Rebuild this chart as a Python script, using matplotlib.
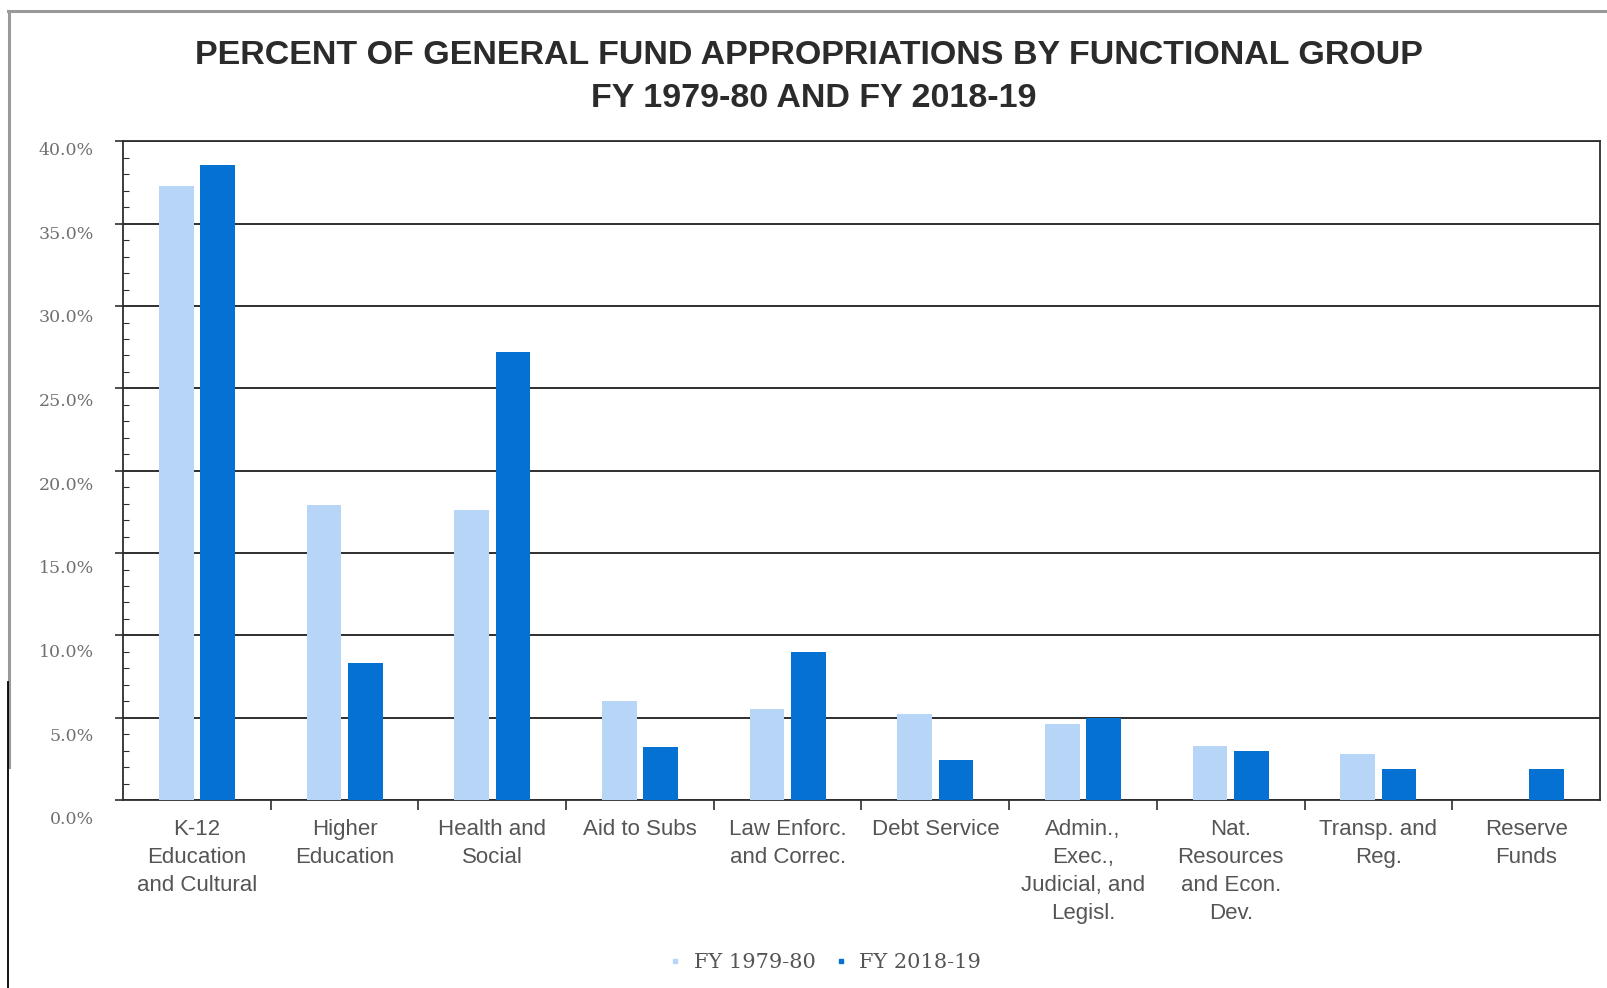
import matplotlib
matplotlib.use("Agg")
import matplotlib.pyplot as plt
import matplotlib.transforms as mtransforms
from matplotlib.lines import Line2D
import numpy as np

# percent of general fund appropriations, by functional group
groups = [
    "K-12\nEducation\nand Cultural",
    "Higher\nEducation",
    "Health and\nSocial",
    "Aid to Subs",
    "Law Enforc.\nand Correc.",
    "Debt Service",
    "Admin.,\nExec.,\nJudicial, and\nLegisl.",
    "Nat.\nResources\nand Econ.\nDev.",
    "Transp. and\nReg.",
    "Reserve\nFunds",
]
fy_1979_80 = [37.3, 17.9, 17.6, 6.0, 5.5, 5.2, 4.6, 3.3, 2.8, 0.0]
fy_2018_19 = [38.6, 8.3, 27.2, 3.2, 9.0, 2.4, 5.0, 3.0, 1.9, 1.9]
series_names = ["FY 1979-80", "FY 2018-19"]
y_ticks = [0, 5, 10, 15, 20, 25, 30, 35, 40]

LIGHT = "#b7d5f6"
DARK = "#0572d3"
TEXT_GRAY = "#555555"

fig = plt.figure(figsize=(16.08, 9.88), dpi=100)
ax = fig.add_axes([0.0765, 0.1903, 0.9185, 0.6665])

x = np.arange(len(groups))
w = 0.235
ax.bar(x - 0.14, fy_1979_80, width=w, color=LIGHT, zorder=3, label=series_names[0])
ax.bar(x + 0.14, fy_2018_19, width=w, color=DARK, zorder=3, label=series_names[1])

ax.set_xlim(-0.5, len(groups) - 0.5)
ax.set_ylim(0, 40)

# y axis: gridlines at every 5%, small ticks every 1%
ax.set_yticks(y_ticks)
ax.set_yticklabels([f"{v:.1f}%" for v in y_ticks])
ax.set_yticks(np.arange(0, 41, 1), minor=True)
ax.yaxis.grid(True, which="major", color="#2e2e2e", linewidth=1.4, zorder=1)
ax.tick_params(axis="y", which="major", direction="out", length=6, width=1.2,
               color="#2e2e2e", pad=15, labelsize=12.5, labelcolor="#707070")
ax.tick_params(axis="y", which="minor", direction="in", length=4, width=0.8,
               color="#2e2e2e")
for lbl in ax.get_yticklabels():
    lbl.set_fontfamily("DejaVu Serif")

# labels sit a little below their gridlines, more so near the bottom
for v, lbl in zip(y_ticks, ax.get_yticklabels()):
    drop = (7 + 11 * (40 - v) / 40) / 100
    lbl.set_transform(lbl.get_transform() +
                      mtransforms.ScaledTranslation(0, -drop, fig.dpi_scale_trans))

# x axis: labels under each group, tick marks between groups
ax.set_xticks(x)
ax.set_xticklabels(groups, fontfamily="Liberation Sans", fontsize=16,
                   color=TEXT_GRAY, linespacing=1.42)
ax.set_xticks(np.arange(0.5, len(groups) - 0.5, 1), minor=True)
ax.tick_params(axis="x", which="major", length=0, pad=14)
ax.tick_params(axis="x", which="minor", direction="out", length=7, width=1.2,
               color="#2e2e2e")

for side in ["left", "bottom", "right", "top"]:
    ax.spines[side].set_color("#2e2e2e")
    ax.spines[side].set_linewidth(1.3)

fig.text(0.503, 0.944, "PERCENT OF GENERAL FUND APPROPRIATIONS BY FUNCTIONAL GROUP",
         ha="center", va="center", fontsize=24.5, fontweight="bold",
         fontfamily="Liberation Sans", color="#2b2b2b")
fig.text(0.506, 0.900, "FY 1979-80 AND FY 2018-19",
         ha="center", va="center", fontsize=24.5, fontweight="bold",
         fontfamily="Liberation Sans", color="#2b2b2b")

handles = [
    Line2D([], [], linestyle="none", marker="s", markersize=3, color=LIGHT),
    Line2D([], [], linestyle="none", marker="s", markersize=3.5, color=DARK),
]
fig.legend(handles, series_names, loc="center", bbox_to_anchor=(0.513, 0.026),
           ncol=2, frameon=False, handlelength=0.6, handletextpad=0.6,
           columnspacing=0.9, prop={"family": "DejaVu Serif", "size": 15},
           labelcolor="#555555")

# page frame lines around the chart
fig.add_artist(Line2D([0.005, 1.0], [0.989, 0.989], color="#9a9a9a", linewidth=2.2))
fig.add_artist(Line2D([0.0056, 0.0056], [0.224, 0.989], color="#9a9a9a", linewidth=2.2))
fig.add_artist(Line2D([0.005, 0.005], [0.0, 0.31], color="black", linewidth=1.3))

fig.savefig("out.png", dpi=100, facecolor="white")
